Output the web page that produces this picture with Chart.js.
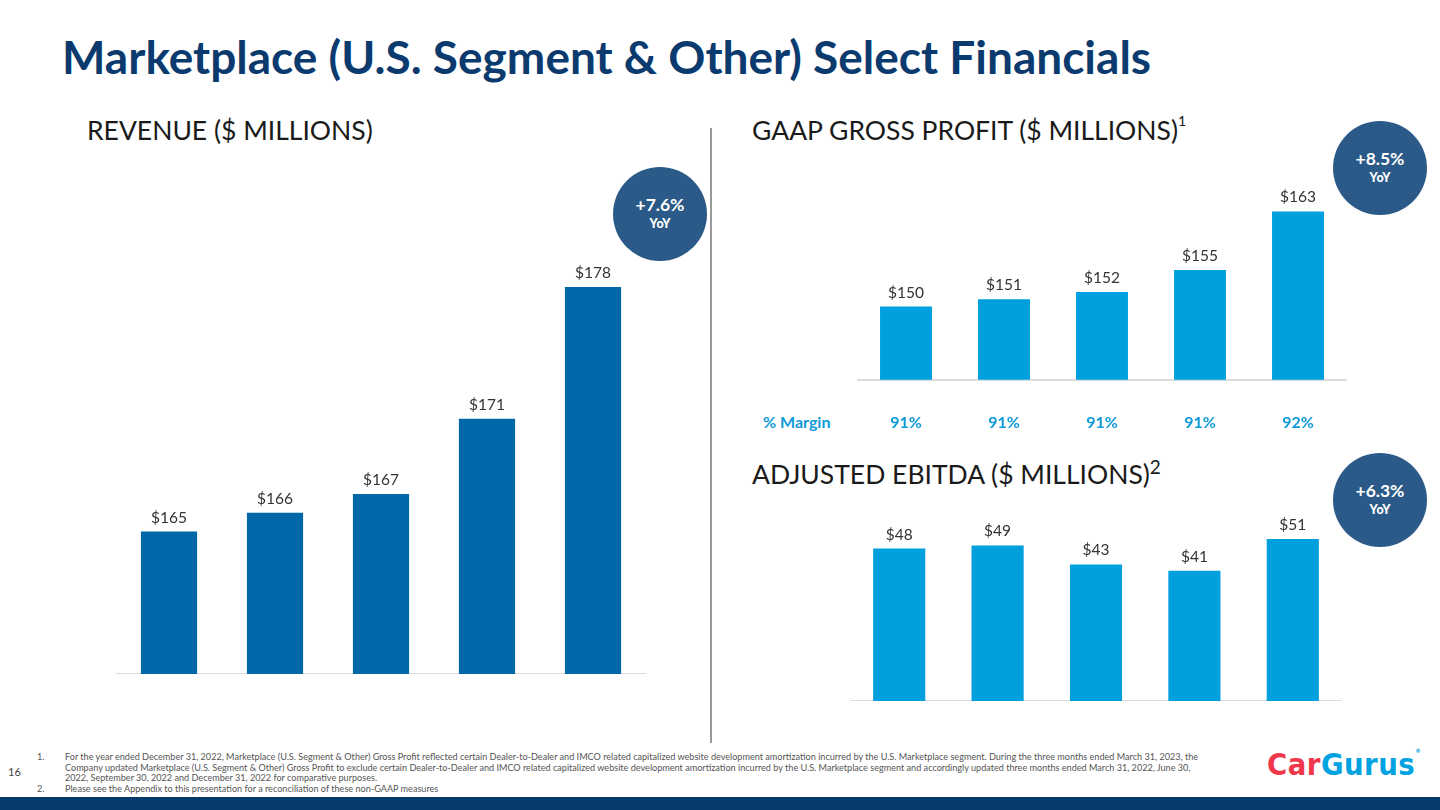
<!DOCTYPE html>
<html>
<head>
<meta charset="utf-8">
<script src="https://cdn.jsdelivr.net/npm/chart.js@4.4.1/dist/chart.umd.min.js"></script>
<style>
  html, body { margin:0; padding:0; background:#fff; }
  body { width:1440px; height:810px; position:relative; overflow:hidden; font-family: Lato, "Open Sans", sans-serif; }
  .abs { position:absolute; white-space:nowrap; }
  #title { left:62px; top:29px; font-size:46px; font-weight:700; color:#0b3a6e; }
  .head { font-size:26.5px; color:#1a1a1a; font-weight:400; }
  .head sup { font-size:14px; vertical-align: top; position:relative; top:-2px; }
  .badge { position:absolute; width:94px; height:94px; border-radius:50%; background:#2b5a88; color:#fff; text-align:center; font-weight:700; }
  .badge .p { position:absolute; left:0; right:0; top:28px; font-size:17.5px; line-height:20px; }
  .badge .y { position:absolute; left:0; right:0; top:50px; font-size:12.5px; line-height:13px; font-weight:900; }
  #divider { left:710px; top:128px; width:2px; height:615px; background:#9a9a9a; }
  .fn { font-size:9.1px; color:#555; line-height:10.5px; }
  #bottombar { left:0; top:797px; width:1440px; height:13px; background:#063a6d; }
  canvas { position:absolute; }
</style>
</head>
<body>
<div id="title" class="abs">Marketplace (U.S. Segment &amp; Other) Select Financials</div>
<div class="abs head" style="left:87px; top:114px;">REVENUE ($ MILLIONS)</div>
<div class="abs head" style="left:752px; top:114px;">GAAP GROSS PROFIT ($ MILLIONS)<sup>1</sup></div>
<div class="abs head" style="left:752px; top:458px;">ADJUSTED EBITDA ($ MILLIONS)<sup style="font-size:19px;top:-3px">2</sup></div>
<div id="divider" class="abs"></div>

<div class="badge" style="left:613px; top:167px;"><div class="p" id="b1"></div><div class="y">YoY</div></div>
<div class="badge" style="left:1333px; top:121px;"><div class="p" id="b2"></div><div class="y">YoY</div></div>
<div class="badge" style="left:1333px; top:453px;"><div class="p" id="b3"></div><div class="y">YoY</div></div>

<div class="abs" id="marginLabel" style="left:763px; top:412px; font-size:16px; font-weight:700; color:#0f9ad8;">% Margin</div>

<canvas id="rev" width="530" height="493" style="left:116px; top:181px;"></canvas>
<canvas id="gp" width="490" height="285" style="left:857px; top:180px;"></canvas>
<canvas id="eb" width="492" height="200" style="left:850px; top:501px;"></canvas>

<div class="abs fn" style="left:37px; top:752px;">1.</div>
<div class="abs fn" style="left:65px; top:752px;">For the year ended December 31, 2022, Marketplace (U.S. Segment &amp; Other) Gross Profit reflected certain Dealer-to-Dealer and IMCO related capitalized website development amortization incurred by the U.S. Marketplace segment. During the three months ended March 31, 2023, the<br>Company updated Marketplace (U.S. Segment &amp; Other) Gross Profit to exclude certain Dealer-to-Dealer and IMCO related capitalized website development amortization incurred by the U.S. Marketplace segment and accordingly updated three months ended March 31, 2022, June 30,<br>2022, September 30, 2022 and December 31, 2022 for comparative purposes.</div>
<div class="abs fn" style="left:37px; top:784px;">2.</div>
<div class="abs fn" style="left:65px; top:784px;">Please see the Appendix to this presentation for a reconciliation of these non-GAAP measures</div>
<div class="abs" style="left:8px; top:765px; font-size:11px; color:#444;">16</div>

<div class="abs" style="left:1267px; top:747px; font-size:30px; font-weight:900; letter-spacing:0.5px; font-family:'DejaVu Sans', sans-serif; transform:scaleX(0.92); transform-origin:left;">
  <span style="color:#f0384a;">Car</span><span style="color:#00a2e0;">Gurus</span><span style="color:#00a2e0; font-size:6px; vertical-align:top;">®</span>
</div>
<div id="bottombar" class="abs"></div>

<script>
// ---- data ----
const quarters = ["Q1'22", "Q2'22", "Q3'22", "Q4'22", "Q1'23"];
const revenue = [165, 166, 167, 171, 178];
const grossProfit = [150, 151, 152, 155, 163];
const grossMargin = ["91%", "91%", "91%", "91%", "92%"];
const adjEbitda = [48, 49, 43, 41, 51];
const yoyGrowth = ["+7.6%", "+8.5%", "+6.3%"];

document.getElementById('b1').textContent = yoyGrowth[0];
document.getElementById('b2').textContent = yoyGrowth[1];
document.getElementById('b3').textContent = yoyGrowth[2];

const valueLabels = {
  id: 'valueLabels',
  afterDatasetsDraw(chart) {
    const ctx = chart.ctx;
    const meta = chart.getDatasetMeta(0);
    const data = chart.data.datasets[0].data;
    ctx.save();
    ctx.font = '15.5px Lato, sans-serif';
    ctx.fillStyle = '#333';
    ctx.textAlign = 'center';
    ctx.textBaseline = 'middle';
    meta.data.forEach((bar, i) => {
      ctx.fillText('$' + data[i], bar.x, bar.y - 14);
    });
    ctx.restore();
  }
};

function makeChart(id, values, color, min, max, tickLabels, tickPadding) {
  return new Chart(document.getElementById(id), {
    type: 'bar',
    data: { labels: quarters, datasets: [{ data: values, backgroundColor: color, barPercentage: 0.53, categoryPercentage: 1 }] },
    options: {
      responsive: false,
      animation: false,
      layout: { padding: 0 },
      plugins: { legend: { display: false }, tooltip: { enabled: false } },
      scales: {
        x: {
          grid: { display: false, drawTicks: false },
          border: { display: true, color: '#dcdcdc', width: 2 },
          ticks: tickLabels ? {
            display: true, padding: tickPadding, color: '#0f9ad8',
            font: { family: 'Lato', size: 16, weight: 'bold' },
            callback: (v, i) => tickLabels[i]
          } : { display: false }
        },
        y: { display: false, min: min, max: max }
      }
    },
    plugins: [valueLabels]
  });
}

makeChart('rev', revenue, '#0068a8', 157.43, 183.64);
makeChart('gp', grossProfit, '#00a0df', 140, 167.3, grossMargin, 33);
makeChart('eb', adjEbitda, '#00a0df', 0, 63);
</script>
</body>
</html>
